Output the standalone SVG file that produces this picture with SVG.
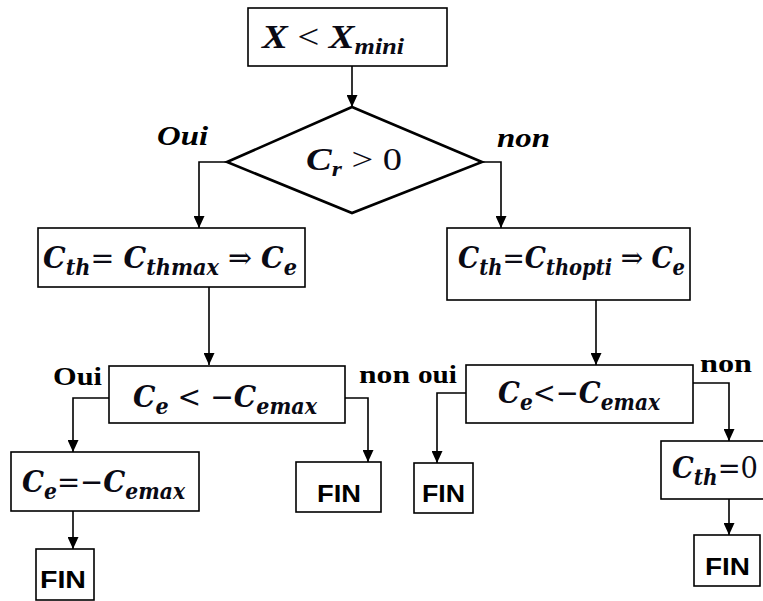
<svg xmlns="http://www.w3.org/2000/svg" width="763" height="601" viewBox="0 0 763 601">
<defs>
<marker id="arr" markerUnits="userSpaceOnUse" markerWidth="12" markerHeight="11" refX="12" refY="5.5" orient="auto">
<path d="M0,0 L12,5.5 L0,11 z" fill="#000"/>
</marker>
<style>
.box{fill:#fff;stroke:#000;stroke-width:1.6}
.dia{fill:#fff;stroke:#000;stroke-width:2.6}
.ln{fill:none;stroke:#000;stroke-width:1.6;marker-end:url(#arr)}
.m{font-family:"DejaVu Serif","Liberation Serif",serif;font-weight:bold;font-style:italic;font-size:30px;fill:#0a0a14}
.s{font-size:22px}
.u{font-style:normal;font-weight:normal}
.lbi{font-family:"Liberation Serif","Times New Roman",serif;font-weight:bold;font-style:italic;font-size:27px;fill:#000}
.lb{font-family:"Liberation Serif","Times New Roman",serif;font-weight:bold;font-size:25px;fill:#000}
.fin{font-family:"Liberation Sans",Arial,sans-serif;font-weight:bold;font-size:24px;fill:#000}
</style>
</defs>
<rect width="763" height="601" fill="#fff"/>
<g id="connectors">
<path class="ln" d="M352,66 L352,107"/>
<path class="ln" d="M227,162 L199,162 L199,228"/>
<path class="ln" d="M482,162 L501,162 L501,228"/>
<path class="ln" d="M209,287 L209,365"/>
<path class="ln" d="M596,300 L596,365"/>
<path class="ln" d="M109,398 L73,398 L73,452"/>
<path class="ln" d="M345,398 L368,398 L368,462"/>
<path class="ln" d="M466,393 L437,393 L437,463"/>
<path class="ln" d="M693,383 L729,383 L729,441"/>
<path class="ln" d="M73,511 L73,549"/>
<path class="ln" d="M729,499 L729,535"/>
</g>
<g id="start">
<rect class="box" x="248" y="8" width="199" height="58"/>
<text class="m" style="font-family:'Liberation Serif',serif;font-size:34px" x="262" y="48" textLength="142" lengthAdjust="spacingAndGlyphs">X <tspan class="u">&lt;</tspan> X<tspan class="s" style="font-size:23px" dy="6">mini</tspan></text>
</g>
<g id="decision">
<polygon class="dia" points="352,107 482,162 352,213 227,162"/>
<text class="m" style="font-family:'Liberation Serif',serif;font-size:31px" x="306" y="170" textLength="96" lengthAdjust="spacingAndGlyphs">C<tspan class="s" style="font-size:21px" dy="6">r</tspan><tspan class="u" dy="-6"> &gt; 0</tspan></text>
</g>
<g id="labels">
<text class="lbi" x="157" y="145" textLength="51" lengthAdjust="spacingAndGlyphs">Oui</text>
<text class="lbi" x="497" y="147" textLength="53" lengthAdjust="spacingAndGlyphs">non</text>
<text class="lb" x="53" y="385" textLength="49" lengthAdjust="spacingAndGlyphs">Oui</text>
<text class="lb" x="359" y="383" textLength="51" lengthAdjust="spacingAndGlyphs">non</text>
<text class="lb" x="418" y="383" textLength="39" lengthAdjust="spacingAndGlyphs">oui</text>
<text class="lb" x="700" y="372" textLength="52" lengthAdjust="spacingAndGlyphs">non</text>
</g>
<g id="thmax">
<rect class="box" x="38" y="228" width="267" height="59"/>
<text class="m" x="43" y="268" textLength="254" lengthAdjust="spacingAndGlyphs">C<tspan class="s" dy="7">th</tspan><tspan class="u" dy="-7">= </tspan>C<tspan class="s" dy="7">thmax</tspan><tspan class="u" dy="-7"> ⇒ </tspan>C<tspan class="s" dy="7">e</tspan></text>
</g>
<g id="thopti">
<rect class="box" x="447" y="228" width="243" height="72"/>
<text class="m" x="458" y="268" textLength="227" lengthAdjust="spacingAndGlyphs">C<tspan class="s" dy="7">th</tspan><tspan class="u" dy="-7">=</tspan>C<tspan class="s" dy="7">thopti</tspan><tspan class="u" dy="-7"> ⇒ </tspan>C<tspan class="s" dy="7">e</tspan></text>
</g>
<g id="cmpLeft">
<rect class="box" x="109" y="366" width="236" height="57"/>
<text class="m" x="133" y="407" textLength="184" lengthAdjust="spacingAndGlyphs">C<tspan class="s" dy="7">e</tspan><tspan class="u" dy="-7"> &lt; −</tspan>C<tspan class="s" dy="7">emax</tspan></text>
</g>
<g id="cmpRight">
<rect class="box" x="466" y="365" width="227" height="58"/>
<text class="m" x="498" y="403" textLength="162" lengthAdjust="spacingAndGlyphs">C<tspan class="s" dy="7">e</tspan><tspan class="u" dy="-7">&lt;−</tspan>C<tspan class="s" dy="7">emax</tspan></text>
</g>
<g id="setCe">
<rect class="box" x="11" y="452" width="188" height="59"/>
<text class="m" x="22" y="492" textLength="163" lengthAdjust="spacingAndGlyphs">C<tspan class="s" dy="7">e</tspan><tspan class="u" dy="-7">=−</tspan>C<tspan class="s" dy="7">emax</tspan></text>
</g>
<g id="setCth">
<rect class="box" x="661" y="441" width="110" height="58"/>
<text class="m" x="672" y="478" textLength="86" lengthAdjust="spacingAndGlyphs">C<tspan class="s" dy="7">th</tspan><tspan class="u" dy="-7">=0</tspan></text>
</g>
<g id="fin1">
<rect class="box" x="36" y="549" width="58" height="51"/>
<text class="fin" x="40" y="588" textLength="46" lengthAdjust="spacingAndGlyphs">FIN</text>
</g>
<g id="fin2">
<rect class="box" x="296" y="462" width="85" height="50"/>
<text class="fin" x="317" y="502" textLength="44" lengthAdjust="spacingAndGlyphs">FIN</text>
</g>
<g id="fin3">
<rect class="box" x="414" y="463" width="59" height="50"/>
<text class="fin" x="422" y="502" textLength="43" lengthAdjust="spacingAndGlyphs">FIN</text>
</g>
<g id="fin4">
<rect class="box" x="694" y="535" width="66" height="51"/>
<text class="fin" x="705" y="575" textLength="45" lengthAdjust="spacingAndGlyphs">FIN</text>
</g>
</svg>
